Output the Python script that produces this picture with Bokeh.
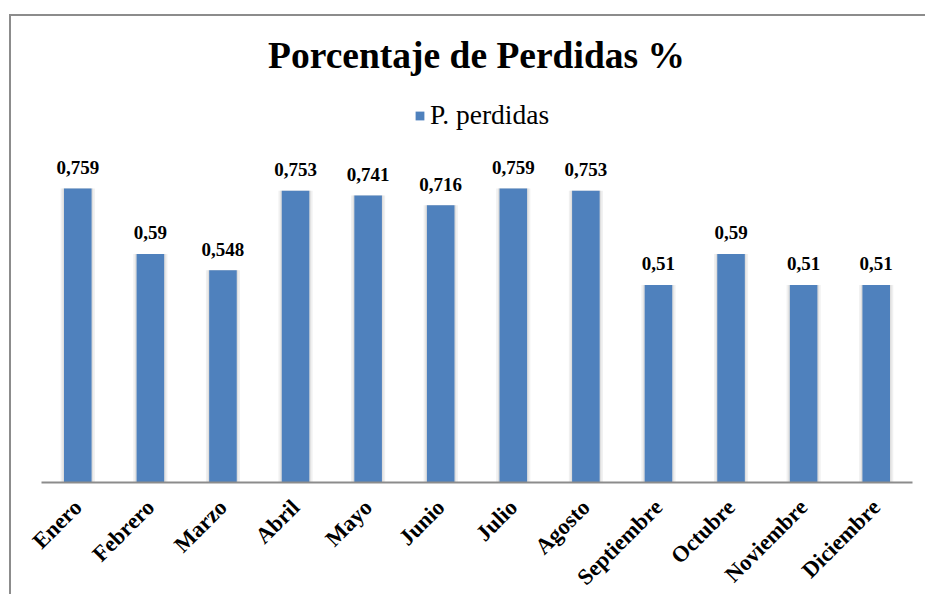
import math
from bokeh.plotting import figure
from bokeh.models import (ColumnDataSource, Range1d, Label, Legend, LegendItem,
                          LinearAxis, FixedTicker)
from bokeh.core.properties import value
from bokeh.embed import file_html
from bokeh.resources import INLINE

# ---- data ----
months = ["Enero", "Febrero", "Marzo", "Abril", "Mayo", "Junio", "Julio",
          "Agosto", "Septiembre", "Octubre", "Noviembre", "Diciembre"]
perdidas = [0.759, 0.59, 0.548, 0.753, 0.741, 0.716, 0.759, 0.753, 0.51, 0.59, 0.51, 0.51]
value_labels = ["0,759", "0,59", "0,548", "0,753", "0,741", "0,716", "0,759",
                "0,753", "0,51", "0,59", "0,51", "0,51"]
series_name = "P. perdidas"
title_text = "Porcentaje de Perdidas %"

SERIF = "Liberation Serif"
BAR = "#4f81bd"

# category slots: one unit per month, centred on i + 0.5
pos = [i + 0.5 for i in range(len(months))]
src = ColumnDataSource(data=dict(x=pos, m=months, v=perdidas, t=value_labels))

p = figure(x_range=Range1d(0, len(months)),
           y_range=Range1d(0, 1.203),
           frame_width=871, frame_height=466,
           min_border_left=30, min_border_right=13,
           min_border_top=0, min_border_bottom=111,
           x_axis_location=None, y_axis_location=None,
           output_backend="svg", toolbar_location=None,
           margin=(14, 0, 0, 9))
p.styles = {"border-top": "2px solid #8c8c8c", "border-left": "2px solid #8c8c8c"}

p.outline_line_color = None
p.background_fill_color = "white"
p.border_fill_color = "white"
p.xgrid.visible = False
p.ygrid.visible = False

# bar shadows
p.vbar(x="x", top="v", width=0.47, source=src, fill_color="#f0f0f0", line_color=None)
p.vbar(x="x", top="v", width=0.42, source=src, fill_color="#dedede", line_color=None)
bars = p.vbar(x="x", top="v", width=0.38, source=src, fill_color=BAR, line_color=None)

# value labels
p.text(x="x", y="v", text="t", source=src, y_offset=-21,
       text_align="center", text_baseline="alphabetic",
       text_font=value(SERIF), text_font_style="bold",
       text_font_size="19px", text_color="black")

# category axis
ax = LinearAxis(ticker=FixedTicker(ticks=pos),
                major_label_overrides={t: m for t, m in zip(pos, months)})
ax.axis_line_color = "#8c8c8c"
ax.axis_line_width = 2
ax.major_tick_line_color = None
ax.minor_tick_line_color = None
ax.major_label_orientation = math.pi / 4
ax.major_label_standoff = 15
ax.major_label_text_font = SERIF
ax.major_label_text_font_style = "bold"
ax.major_label_text_font_size = "22.5px"
ax.major_label_text_color = "black"
p.add_layout(ax, "below")

# title
p.add_layout(Label(x=435, y=427, x_units="screen", y_units="screen",
                   text=title_text, text_align="center", text_baseline="alphabetic",
                   text_font=SERIF, text_font_style="bold", text_font_size="37.5px",
                   text_color="black"))

# legend
legend = Legend(items=[LegendItem(label=series_name, renderers=[bars])],
                location=(373, 351), orientation="horizontal",
                padding=0, margin=0, border_line_color=None,
                background_fill_alpha=0,
                glyph_width=11, glyph_height=11, label_standoff=5,
                label_text_font=SERIF, label_text_font_size="27.5px",
                label_text_color="black")
p.add_layout(legend, "center")

open("out.html", "w").write(file_html(p, INLINE))
